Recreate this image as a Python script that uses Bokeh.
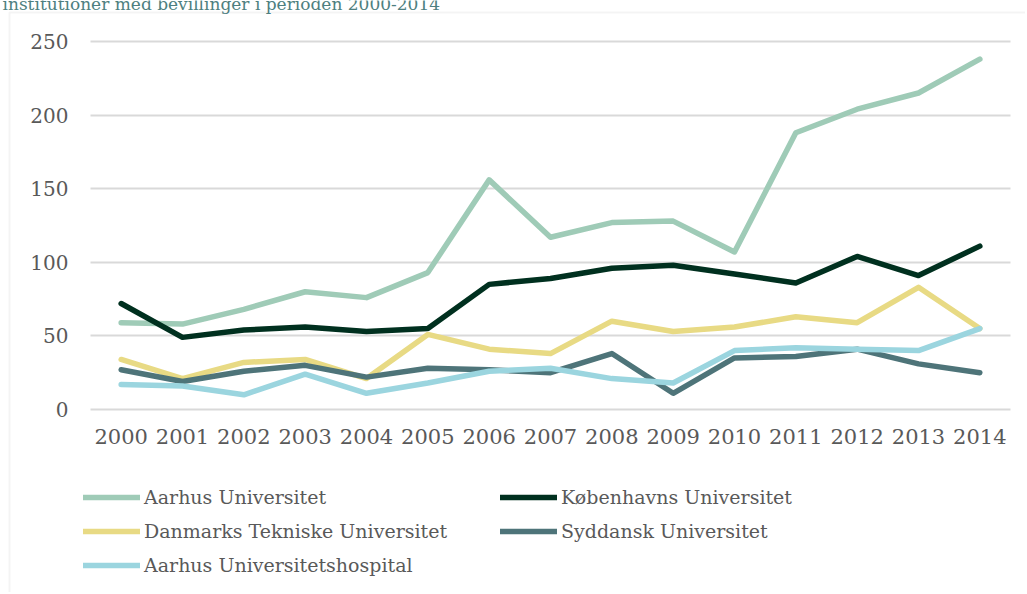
from bokeh.plotting import figure
from bokeh.models import Range1d, FixedTicker, Legend, LegendItem, BoxAnnotation, Label
from bokeh.embed import file_html
from bokeh.resources import INLINE

years = list(range(2000, 2015))
aarhus_universitet = [59, 58, 68, 80, 76, 93, 156, 117, 127, 128, 107, 188, 204, 215, 238]
koebenhavns_universitet = [72, 49, 54, 56, 53, 55, 85, 89, 96, 98, 92, 86, 104, 91, 111]
dtu = [34, 21, 32, 34, 21, 51, 41, 38, 60, 53, 56, 63, 59, 83, 55]
syddansk = [27, 19, 26, 30, 22, 28, 27, 25, 38, 11, 35, 36, 41, 31, 25]
auh = [17, 16, 10, 24, 11, 18, 26, 28, 21, 18, 40, 42, 41, 40, 55]
y_ticks = [0, 50, 100, 150, 200, 250]
title_text = "institutioner med bevillinger i perioden 2000-2014"

series = [
    ("Aarhus Universitet", aarhus_universitet, "#9fcbb7"),
    ("Københavns Universitet", koebenhavns_universitet, "#00301f"),
    ("Danmarks Tekniske Universitet", dtu, "#e8da84"),
    ("Syddansk Universitet", syddansk, "#4e7479"),
    ("Aarhus Universitetshospital", auh, "#9bd5df"),
]

W, H = 1025, 592
# pixel layout: plot area (first/last category edges) and value axis
PX_L, PX_R = 90.0, 1010.0          # x edges of the category band
PY_0, PY_250 = 409.0, 41.0         # y pixel of 0 and 250
x_lo, x_hi = years[0] - 0.5, years[-1] + 0.5
sx = (PX_R - PX_L) / (x_hi - x_lo)
sy = (PY_0 - PY_250) / 250.0
x_start = x_lo - PX_L / sx
x_end = x_hi + (W - PX_R) / sx
y_end = 250 + PY_250 / sy
y_start = -(H - PY_0) / sy

def px_to_x(px):
    return x_start + px / sx

def py_to_y(py):
    return y_end - py / sy

p = figure(width=W, height=H, output_backend="svg", toolbar_location=None,
           x_range=Range1d(x_start, x_end), y_range=Range1d(y_start, y_end),
           min_border_left=0, min_border_right=0, min_border_top=0, min_border_bottom=0)
p.outline_line_color = None
p.background_fill_color = "white"
p.border_fill_color = "white"

p.xaxis.ticker = FixedTicker(ticks=years)
p.yaxis.ticker = FixedTicker(ticks=y_ticks)
p.xgrid.grid_line_color = None
p.ygrid.grid_line_color = "#d9d9d9"
p.ygrid.grid_line_width = 2
p.ygrid.cross_bounds = (x_lo, x_hi)
for ax in (p.xaxis[0], p.yaxis[0]):
    ax.axis_line_color = None
    ax.major_tick_line_color = None
    ax.minor_tick_line_color = None
    ax.major_tick_out = 0
    ax.minor_tick_out = 0
    ax.major_tick_in = 0
    ax.minor_tick_in = 0
    ax.major_label_text_font = "DejaVu Serif"
    ax.major_label_text_color = "#595959"
p.xaxis.major_label_text_font_size = "21px"
p.yaxis.major_label_text_font_size = "20px"
p.xaxis.major_label_standoff = -24
p.yaxis.major_label_standoff = -38
p.xaxis.fixed_location = py_to_y(452)
p.yaxis.fixed_location = px_to_x(30)

box = BoxAnnotation(left=9, right=W + 20, top=12, bottom=H + 20,
                    left_units="canvas", right_units="canvas", top_units="canvas", bottom_units="canvas",
                    fill_color=None, fill_alpha=0, line_color="#d9d9d9", line_width=2, level="underlay")
p.add_layout(box)

title = Label(x=2, y=3, x_units="canvas", y_units="canvas", text=title_text,
              text_font="DejaVu Serif", text_font_size="17px", text_color="#4e7f80",
              text_baseline="alphabetic")
p.add_layout(title)

renderers = {}
for name, vals, col in series:
    r = p.line(years, vals, line_width=5.5, line_color=col, line_join="round", line_cap="round")
    renderers[name] = r

common = dict(orientation="vertical", glyph_width=57, glyph_height=20, label_height=20,
              label_standoff=4, spacing=12, padding=0, margin=0, border_line_color=None,
              background_fill_alpha=0, label_text_font="DejaVu Serif",
              label_text_font_size="19px", label_text_color="#595959")
left_names = ["Aarhus Universitet", "Danmarks Tekniske Universitet", "Aarhus Universitetshospital"]
right_names = ["Københavns Universitet", "Syddansk Universitet"]
leg1 = Legend(items=[LegendItem(label=n, renderers=[renderers[n]]) for n in left_names],
              location=(83, 16), **common)
leg2 = Legend(items=[LegendItem(label=n, renderers=[renderers[n]]) for n in right_names],
              location=(500, 50), **common)
p.add_layout(leg1)
p.add_layout(leg2)

open("out.html", "w").write(file_html(p, INLINE))
